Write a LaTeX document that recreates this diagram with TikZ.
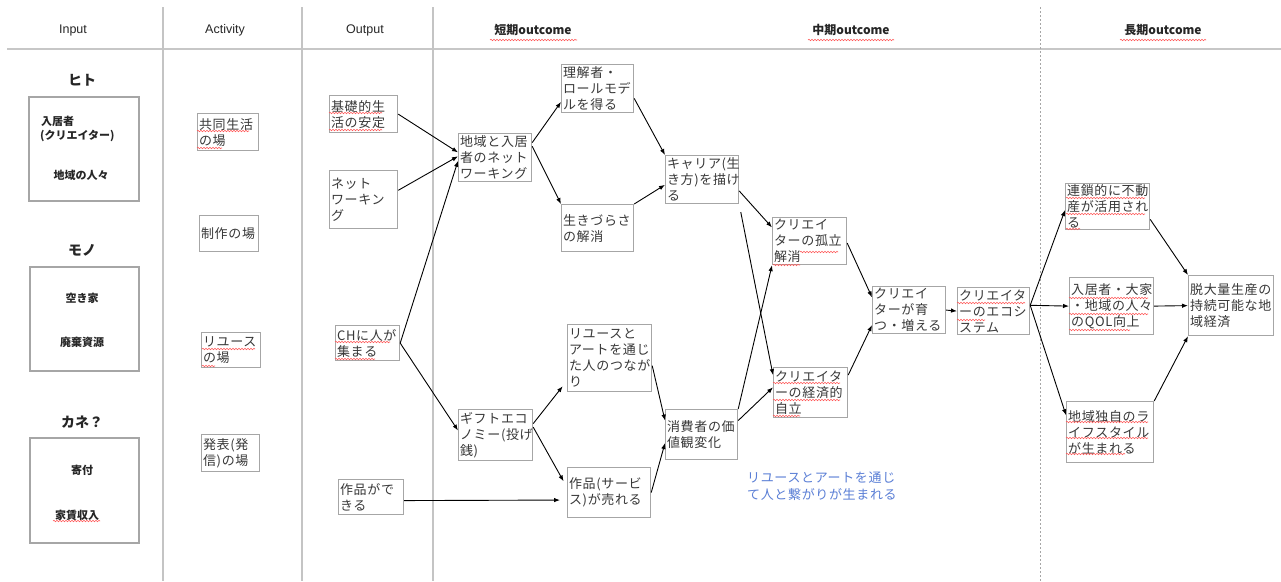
\documentclass[tikz,border=0pt]{standalone}
\usepackage{fontspec}
\setmainfont{Noto Sans CJK JP}
\newfontfamily\jp{Noto Sans CJK JP}
\newfontfamily\jpsp[LetterSpace=5]{Noto Sans CJK JP}
\newfontfamily\lat{Liberation Sans}
\usetikzlibrary{arrows.meta,decorations.pathmorphing}
\definecolor{noteblue}{HTML}{5B7FD6}
\definecolor{sepgray}{HTML}{C4C4C4}
\definecolor{boxgray}{HTML}{A6A6A6}
\begin{document}
\begin{tikzpicture}[x=1pt,y=-1pt,
  bx/.style={draw=boxgray, line width=1.2pt, anchor=north west, align=left,
    inner xsep=1.5pt, inner ysep=1pt, text=black!78,
    font=\jpsp\fontsize{13}{16}\selectfont},
  inbox/.style={draw=boxgray, line width=1.5pt, anchor=north west, inner sep=0pt},
  inlab/.style={font=\jp\bfseries\fontsize{14}{16}\selectfont, text=black!85},
  intxt/.style={font=\jp\bfseries\fontsize{11}{13}\selectfont, text=black!85, inner sep=0pt},
  head/.style={font=\lat\fontsize{12.5}{14}\selectfont, text=black!85},
  jhead/.style={font=\jp\bfseries\fontsize{12}{14}\selectfont, text=black!85},
  arr/.style={-{Latex[length=6pt,width=4.5pt]}, line width=0.9pt, black},
  sep/.style={draw=sepgray, line width=1.3pt},
  squig/.style={draw=red!65, line width=0.6pt, decorate,
    decoration={snake, amplitude=0.7pt, segment length=3pt}}
]
\useasboundingbox (0,0) rectangle (1281,581);
\fill[white] (0,0) rectangle (1281,581);

% separators
\draw[draw=black!22, line width=2pt] (7,49) -- (1281,49);
\draw[sep] (163,7) -- (163,581);
\draw[sep] (302,7) -- (302,581);
\draw[sep] (433,7) -- (433,581);
\draw[draw=black!35, line width=0.8pt, dash pattern=on 2pt off 2pt] (1040,7) -- (1040,581);

% headers
\node[head] (hIn) at (73,30) {Input};
\node[head] (hAct) at (225,30) {Activity};
\node[head] (hOut) at (365,30) {Output};
\node[jhead] (hS) at (533,30) {短期outcome};
\node[jhead] (hM) at (851,30) {中期outcome};
\node[jhead] (hL) at (1163,30) {長期outcome};

% Input column
\node[inlab] (lHito) at (82,80) {ヒト};
\node[inbox, minimum width=110pt, minimum height=104pt] (inA) at (28,96) {};
\node[intxt, anchor=west] (tA1) at (41,121) {入居者};
\node[intxt, anchor=west] (tA2) at (40,136) {(クリエイター)};
\node[intxt] (tA3) at (81,175) {地域の人々};

\node[inlab] (lMono) at (82,250) {モノ};
\node[inbox, minimum width=109pt, minimum height=104pt] (inB) at (29,266) {};
\node[intxt] (tB1) at (82,298) {空き家};
\node[intxt] (tB2) at (82,342) {廃棄資源};

\node[inlab] (lKane) at (82,422) {カネ？};
\node[inbox, minimum width=109pt, minimum height=105pt] (inC) at (29,437) {};
\node[intxt] (tC1) at (82,470) {寄付};
\node[intxt] (tC2) at (77,515) {家賃収入};

% Activity
\node[bx, text width=58pt, minimum height=37pt] (act1) at (197,113) {共同生活\\の場};
\node[bx, text width=56pt, minimum height=36pt] (act2) at (199,215) {制作の場};
\node[bx, text width=56pt, minimum height=35pt] (act3) at (201,332) {リユース\\の場};
\node[bx, text width=55pt, minimum height=37pt] (act4) at (201,434) {発表(発\\信)の場};

% Output
\node[bx, text width=65pt, minimum height=37pt] (out1) at (329,95) {基礎的生\\活の安定};
\node[bx, text width=65pt, minimum height=58pt] (out2) at (329,170) {ネット\\ワーキン\\グ};
\node[bx, text width=61pt, minimum height=35pt] (out3) at (335,325) {CHに人が\\集まる};
\node[bx, text width=62pt, minimum height=35pt] (out4) at (338,479) {作品がで\\きる};

% Short-term
\node[bx, text width=70pt, minimum height=48pt] (s1) at (458,133) {地域と入居\\者のネット\\ワーキング};
\node[bx, text width=71pt, minimum height=51pt] (s2) at (458,409) {ギフトエコ\\ノミー(投げ\\銭)};
\node[bx, text width=69pt, minimum height=48pt] (s3) at (561,64) {理解者・\\ロールモデ\\ルを得る};
\node[bx, text width=69pt, minimum height=47pt] (s4) at (561,204) {生きづらさ\\の解消};
\node[bx, text width=70pt, minimum height=48pt] (s5) at (665,155) {キャリア(生\\き方)を描け\\る};
\node[bx, text width=81pt, minimum height=67pt] (s6) at (567,324) {リユースと\\アートを通じ\\た人のつなが\\り};
\node[bx, text width=80pt, minimum height=50pt] (s7) at (567,467) {作品(サービ\\ス)が売れる};
\node[bx, text width=69pt, minimum height=50pt] (s8) at (665,409) {消費者の価\\値観変化};

% Mid-term
\node[bx, text width=71pt, minimum height=47pt] (m1) at (772,217) {クリエイ\\ターの孤立\\解消};
\node[bx, text width=71pt, minimum height=50pt] (m2) at (773,367) {クリエイタ\\ーの経済的\\自立};
\node[bx, text width=70pt, minimum height=47pt] (m3) at (872,286) {クリエイ\\ターが育\\つ・増える};
\node[bx, text width=69pt, minimum height=47pt] (m4) at (957,287) {クリエイタ\\ーのエコシ\\ステム};

% Long-term
\node[bx, text width=81pt, minimum height=45pt] (l1) at (1065,183) {連鎖的に不動\\産が活用され\\る};
\node[bx, text width=81pt, minimum height=57pt] (l2) at (1069,277) {入居者・大家\\・地域の人々\\のQOL向上};
\node[bx, text width=84pt, minimum height=61pt] (l3) at (1066,401) {地域独自のラ\\イフスタイル\\が生まれる};
\node[bx, text width=82pt, minimum height=60pt] (l4) at (1188,275) {脱大量生産の\\持続可能な地\\域経済};

% note
\node[anchor=north west, align=left, inner sep=0pt, text=noteblue,
  font=\jpsp\fontsize{13}{17}\selectfont] (note) at (747,472)
  {リユースとアートを通じ\\て人と繋がりが生まれる};

% arrows
\draw[arr] (out1.east) -- (s1.172);
\draw[arr] (out2.15) -- (s1.178);
\draw[arr] (out3.east) -- (s1.185);
\draw[arr] (out3.east) -- (s2.173);
\draw[arr] (s1.22) -- (s3.200);
\draw[arr] (s1.17) -- (s4.north west);
\draw[arr] (s3.-15) -- (s5.north west);
\draw[arr] (s4.north east) -- (s5.188);
\draw[arr, shorten >=7pt] (s2.17) -- (s6.208);
\draw[arr, shorten >=7pt] (s2.12) -- (s7.173);
\draw[arr, shorten >=7pt] (out4.-6) -- (s7.190);
\draw[arr] (s6.-10) -- (s8.159);
\draw[arr] (s7.east) -- (s8.193);
\draw[arr] (s5.-17) -- (m1.160);
\draw[arr, shorten <=8pt] (s5.south east) -- (m2.155);
\draw[arr] (s8.north east) -- (m1.south west);
\draw[arr] (s8.21) -- (m2.172);
\draw[arr] (m1.-3) -- (m3.161);
\draw[arr] (m2.25) -- (m3.202);
\draw[arr] (m3.east) -- (m4.west);
\draw[arr] (m4.9) -- (l1.185);
\draw[arr] (m4.9) -- (l2.west);
\draw[arr] (m4.9) -- (l3.159);
\draw[arr] (l1.-17) -- (l4.north west);
\draw[arr] (l2.east) -- (l4.west);
\draw[arr] (l3.north east) -- (l4.south west);

% spell-check squiggles
\draw[squig] (490,40) -- (577,40);
\draw[squig] (808,40) -- (894,40);
\draw[squig] (1120,40) -- (1206,40);
\draw[squig] (197,131) -- (249,131);
\draw[squig] (197,148) -- (222,148);
\draw[squig] (202,349) -- (255,349);
\draw[squig] (202,366) -- (215,366);
\draw[squig] (53,521) -- (100,521);
\draw[squig] (329,113) -- (382,113);
\draw[squig] (329,130) -- (382,130);
\draw[squig] (335,342) -- (390,342);
\draw[squig] (335,359) -- (375,359);
\draw[squig] (800,252) -- (838,252);
\draw[squig] (773,265) -- (800,265);
\draw[squig] (773,383) -- (840,383);
\draw[squig] (773,400) -- (840,400);
\draw[squig] (773,416) -- (800,416);
\draw[squig] (957,303) -- (1025,303);
\draw[squig] (957,320) -- (985,320);
\draw[squig] (1066,198) -- (1145,198);
\draw[squig] (1066,214) -- (1145,214);
\draw[squig] (1066,229) -- (1080,229);
\draw[squig] (1069,298) -- (1148,298);
\draw[squig] (1069,314) -- (1148,314);
\draw[squig] (1069,330) -- (1130,330);
\draw[squig] (1066,422) -- (1148,422);
\draw[squig] (1066,438) -- (1148,438);
\draw[squig] (1066,454) -- (1125,454);
\end{tikzpicture}
\end{document}
